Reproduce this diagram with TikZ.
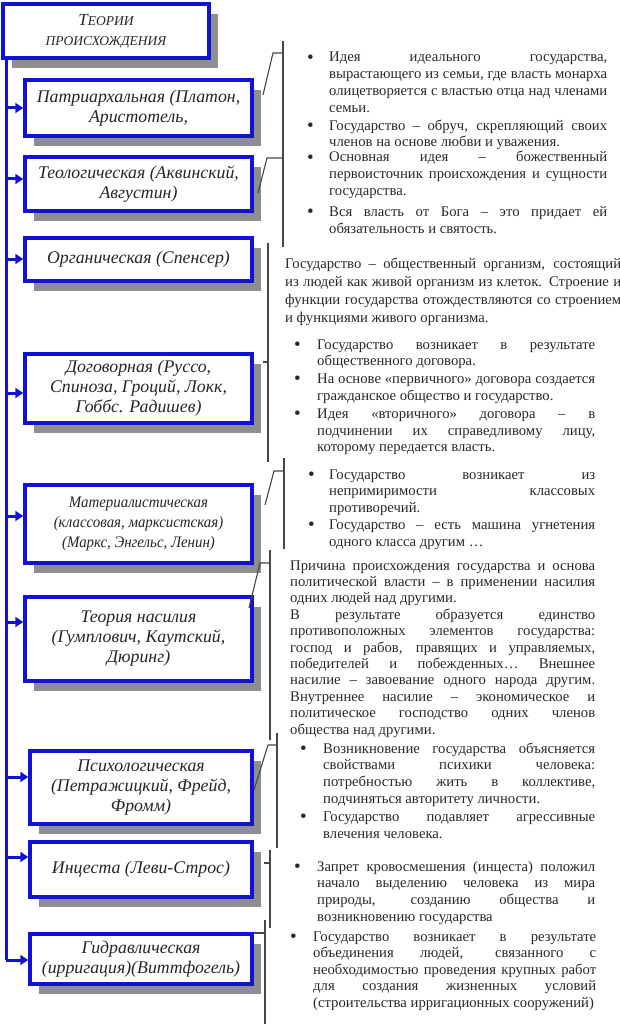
\documentclass[tikz,border=0pt]{standalone}
\usepackage{fontspec}
\setmainfont{Liberation Serif}
\usetikzlibrary{arrows.meta}
\definecolor{boxblue}{RGB}{18,18,210}
\definecolor{shgray}{RGB}{142,142,142}
\definecolor{brkgray}{RGB}{70,70,70}
\definecolor{txtgray}{RGB}{40,40,40}

\newlength\bhang
\newcommand{\bfirst}{\noindent\hangindent=\bhang\hangafter=1\makebox[\bhang][l]{\raisebox{-1.2pt}{\fontsize{19}{0}\selectfont\textbullet}}}
\newcommand{\bitem}{\par\bfirst}
\newcommand{\txtsetup}{\fontsize{14.7}{16.8}\selectfont\parindent=0pt\parskip=1pt\tolerance=10000\hyphenpenalty=10000\hbadness=10000}

\begin{document}
\begin{tikzpicture}[x=1pt,y=-1pt,
   theory/.style={draw=boxblue, line width=3.5pt, fill=white, inner sep=2pt,
     minimum width=227pt, align=center, text=black!85,
     font=\fontsize{17.8}{20}\selectfont\itshape,
     preaction={fill=shgray, transform canvas={xshift=9pt,yshift=-10pt}}},
   txt/.style={inner sep=0pt, anchor=base west, align=justify, text=txtgray},
   arr/.style={boxblue, line width=3pt, -{Triangle[length=8pt,width=10pt]}},
   trunk/.style={boxblue, line width=3pt},
   brk/.style={brkgray, line width=1.1pt}]
\useasboundingbox (0,0) rectangle (620,1024);

% theories
\node[theory, minimum width=206, minimum height=54] (title) at (106,31)
   {\fontsize{17}{20}\selectfont\itshape Т{\fontsize{13.5}{20}\selectfont ЕОРИИ}\\
    \fontsize{13.5}{20}\selectfont\itshape ПРОИСХОЖДЕНИЯ};
\node[theory, minimum height=56] (patr) at (138.5,108) {Патриархальная (Платон,\\ Аристотель,};
\node[theory, minimum height=54] (theo) at (138.5,184) {Теологическая (Аквинский,\\ Августин)};
\node[theory, minimum height=43] (org) at (138.5,259.5) {Органическая (Спенсер)};
\node[theory, minimum height=69] (dog) at (138.5,388.5) {Договорная (Руссо,\\ Спиноза, Гроций, Локк,\\ Гоббс. Радишев)};
\node[theory, minimum height=78,
   font=\fontsize{16}{20}\selectfont\itshape\addfontfeatures{FakeStretch=0.93}] (mat) at (138.5,524)
   {Материалистическая\\ (классовая, марксистская)\\ (Маркс, Энгельс, Ленин)};
\node[theory, minimum height=84] (viol) at (138.5,639) {Теория насилия\\ (Гумплович, Каутский,\\ Дюринг)};
\node[theory, minimum width=222, minimum height=73] (psy) at (141,787.5) {Психологическая\\ (Петражицкий, Фрейд,\\ Фромм)};
\node[theory, minimum width=222, minimum height=55] (inc) at (141,869.5) {Инцеста (Леви-Строс)};
\node[theory, minimum width=222, minimum height=50] (hyd) at (141,959) {Гидравлическая\\ (ирригация)(Виттфогель)};

% trunk and arrows
\draw[trunk] (title.south -| 6,0) -- (6,960);
\foreach \b/\y in {patr/108,theo/179,org/259,dog/393,mat/516,viol/622,psy/777,inc/857,hyd/960}
   \draw[arr] (6,\y) -- (\b.west |- 6,\y);

% brackets
\draw[brk] (283,41) -- (283,247);
\draw[brk] (263,95) -- (273,53) -- (283,53);
\draw[brk] (258,193) -- (267,158) -- (283,158);
\draw[brk] (268,243) -- (268,462);
\draw[brk] (263,362) -- (268,362);
\draw[brk] (284,458) -- (284,549);
\draw[brk] (265,505) -- (274,471) -- (284,471);
\draw[brk] (270,550) -- (270,740);
\draw[brk] (249,608) -- (260,563) -- (270,563);
\draw[brk] (277,733) -- (277,848);
\draw[brk] (254,790) -- (268,745) -- (277,745);
\draw[brk] (270,850) -- (270,928);
\draw[brk] (264,863) -- (270,863);
\draw[brk] (265,920) -- (265,1024);
\draw[brk] (254,933) -- (265,933);

% texts
\node[txt, text width=300] (tPatr) at (307,62) {\txtsetup\setlength\bhang{22pt}%
 \bfirst Идея идеального государства,\linebreak вырастающего из семьи, где власть монарха\linebreak олицетворяется с властью отца над членами\linebreak семьи.
 \bitem Государство – обруч, скрепляющий своих\linebreak членов на основе любви и уважения.\par};
\node[txt, text width=300] (tTheo) at (307,162) {\txtsetup\setlength\bhang{22pt}%
 \bfirst Основная идея – божественный\linebreak первоисточник происхождения и сущности\linebreak государства.\par\vspace{3pt}
 \bfirst Вся власть от Бога – это придает ей\linebreak обязательность и святость.\par};
\node[txt, text width=336] (tOrg) at (285,268) {\txtsetup\baselineskip=18pt%
 Государство – общественный организм, состоящий\linebreak из людей как живой организм из клеток. Строение и\linebreak функции государства отождествляются со строением\linebreak и функциями живого организма.\par};
\node[txt, text width=301] (tDog) at (294,349) {\txtsetup\setlength\bhang{23pt}%
 \bfirst Государство возникает в результате\linebreak общественного договора.
 \bitem На основе «первичного» договора создается\linebreak гражданское общество и государство.
 \bitem Идея «вторичного» договора – в\linebreak подчинении их справедливому лицу,\linebreak которому передается власть.\par};
\node[txt, text width=287] (tMat) at (308,479) {\txtsetup\parskip=0pt\setlength\bhang{21pt}%
 \bfirst Государство возникает из\linebreak непримиримости классовых\linebreak противоречий.
 \bitem Государство – есть машина угнетения\linebreak одного класса другим …\par};
\node[txt, text width=305] (tViol) at (290,570) {\txtsetup\baselineskip=16.4pt\parskip=0pt%
 Причина происхождения государства и основа\linebreak политической власти – в применении насилия\linebreak одних людей над другими.\par
 В результате образуется единство\linebreak противоположных элементов государства:\linebreak господ и рабов, правящих и управляемых,\linebreak победителей и побежденных… Внешнее\linebreak насилие – завоевание одного народа другим.\linebreak Внутреннее насилие – экономическое и\linebreak политическое господство одних членов\linebreak общества над другими.\par};
\node[txt, text width=295] (tPsy) at (300,753) {\txtsetup\setlength\bhang{23pt}%
 \bfirst Возникновение государства объясняется\linebreak свойствами психики человека:\linebreak потребностью жить в коллективе,\linebreak подчиняться авторитету личности.
 \bitem Государство подавляет агрессивные\linebreak влечения человека.\par};
\node[txt, text width=301] (tInc) at (294,871) {\txtsetup\setlength\bhang{23pt}%
 \bfirst Запрет кровосмешения (инцеста) положил\linebreak начало выделению человека из мира\linebreak природы, созданию общества и\linebreak возникновению государства\par};
\node[txt, text width=306] (tHyd) at (290,941) {\txtsetup\baselineskip=16.5pt\setlength\bhang{23pt}%
 \bfirst Государство возникает в результате\linebreak объединения людей, связанного с\linebreak необходимостью проведения крупных работ\linebreak для создания жизненных условий\linebreak (строительства ирригационных сооружений)\par};
\end{tikzpicture}
\end{document}
